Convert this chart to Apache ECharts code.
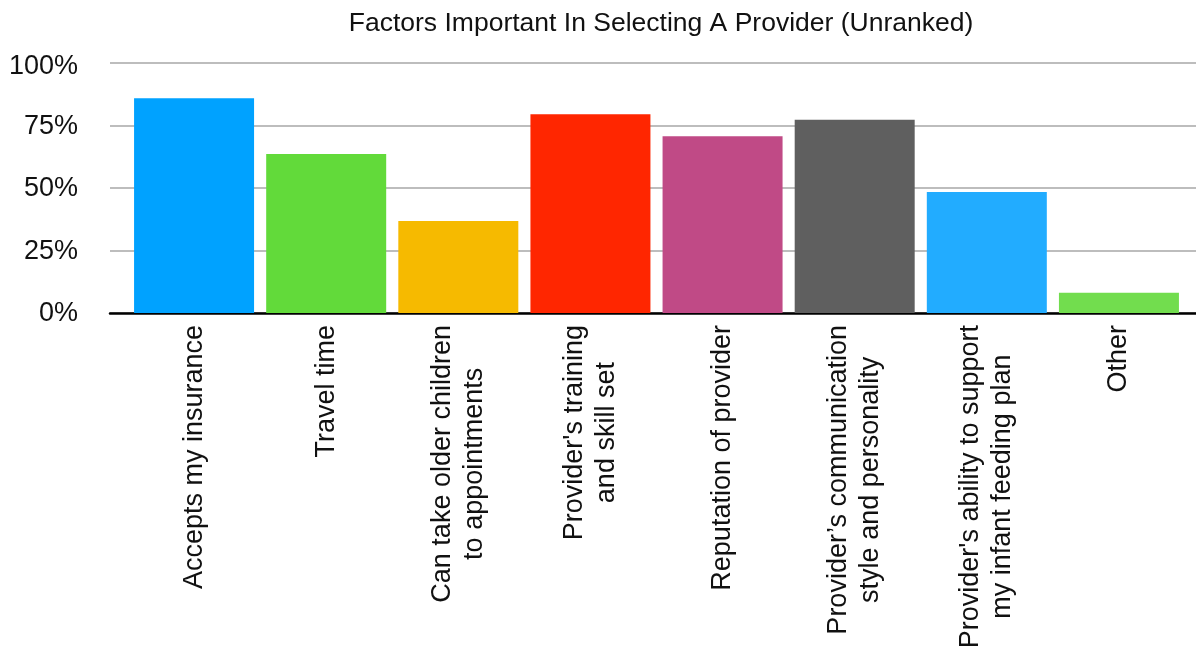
<!DOCTYPE html>
<html>
<head>
<meta charset="utf-8">
<script src="https://cdn.jsdelivr.net/npm/echarts@6/dist/echarts.min.js"></script>
<style>
  html, body { margin: 0; padding: 0; background: #fff; }
  #chart { width: 1196px; height: 657px; }
</style>
</head>
<body>
<div id="chart"></div>
<script>
// Survey factors and share of respondents choosing each (percent)
const categories = [
  'Accepts my insurance',
  'Travel time',
  'Can take older children\nto appointments',
  "Provider's training\nand skill set",
  'Reputation of provider',
  'Provider\u2019s communication\nstyle and personality',
  "Provider's ability to support\nmy infant feeding plan",
  'Other'
];
const shares = [85.9, 63.6, 36.8, 79.5, 70.7, 77.3, 48.4, 8.1];
const barColors = ['#00A2FF', '#62DA3A', '#F6BA00', '#FF2600', '#C04A86', '#5F5F5F', '#22ACFF', '#72DD4E'];
const percentTicks = [0, 25, 50, 75, 100];

const FONT = '"Liberation Sans", Arial, Helvetica, sans-serif';

const chart = echarts.init(document.getElementById('chart'), null, { renderer: 'canvas' });

chart.setOption({
  animation: false,
  backgroundColor: '#ffffff',
  title: {
    text: 'Factors Important In Selecting A Provider (Unranked)',
    left: 656,
    textAlign: 'center',
    top: 5,
    textStyle: { fontFamily: FONT, fontSize: 26.5, fontWeight: 'normal', color: '#111' }
  },
  grid: [
    // full-width frame carrying the gridlines and baseline
    { left: 110, right: 0, top: 63, bottom: 344, containLabel: false },
    // category band holding the bars
    { left: 128, right: 11, top: 63, bottom: 344, containLabel: false }
  ],
  xAxis: [
    {
      type: 'value', gridIndex: 0, min: 0, max: 1,
      axisLine: { show: true, onZero: false, lineStyle: { color: '#000', width: 2.5 } },
      axisTick: { show: false }, axisLabel: { show: false }, splitLine: { show: false }
    },
    {
      type: 'category', gridIndex: 1, data: categories,
      axisLine: { show: false }, axisTick: { show: false },
      axisLabel: {
        interval: 0,
        rotate: 90,
        margin: 12,
        formatter: function (v) {
          return v.split('\n').map(function (s) { return '{c|' + s + '}'; }).join('\n');
        },
        rich: {
          c: { fontFamily: FONT, fontSize: 27, lineHeight: 32, color: '#111', align: 'center' }
        }
      }
    }
  ],
  yAxis: [
    {
      type: 'value', gridIndex: 0, min: 0, max: 100, interval: 25,
      axisLine: { show: false }, axisTick: { show: false },
      axisLabel: {
        margin: 32,
        fontFamily: FONT, fontSize: 27, color: '#111',
        formatter: function (v) {
          if (percentTicks.indexOf(v) < 0) return '';
          // top label sits a little lower than its gridline
          return v === 100 ? '{hi|' + v + '%}' : '{n|' + v + '%}';
        },
        rich: {
          hi: { fontFamily: FONT, fontSize: 27, color: '#111', padding: [7, 0, 0, 0] },
          n: { fontFamily: FONT, fontSize: 27, color: '#111', padding: [2, 0, 0, 0] }
        }
      },
      splitLine: { show: true, lineStyle: { color: '#BDBDBD', width: 2 } }
    },
    {
      type: 'value', gridIndex: 1, min: 0, max: 100, interval: 25,
      show: false, splitLine: { show: false }
    }
  ],
  series: [
    {
      type: 'bar',
      xAxisIndex: 1,
      yAxisIndex: 1,
      barWidth: 120,
      data: shares.map(function (v, i) {
        return { value: v, itemStyle: { color: barColors[i] } };
      }),
      z: 1
    }
  ]
});
</script>
</body>
</html>
